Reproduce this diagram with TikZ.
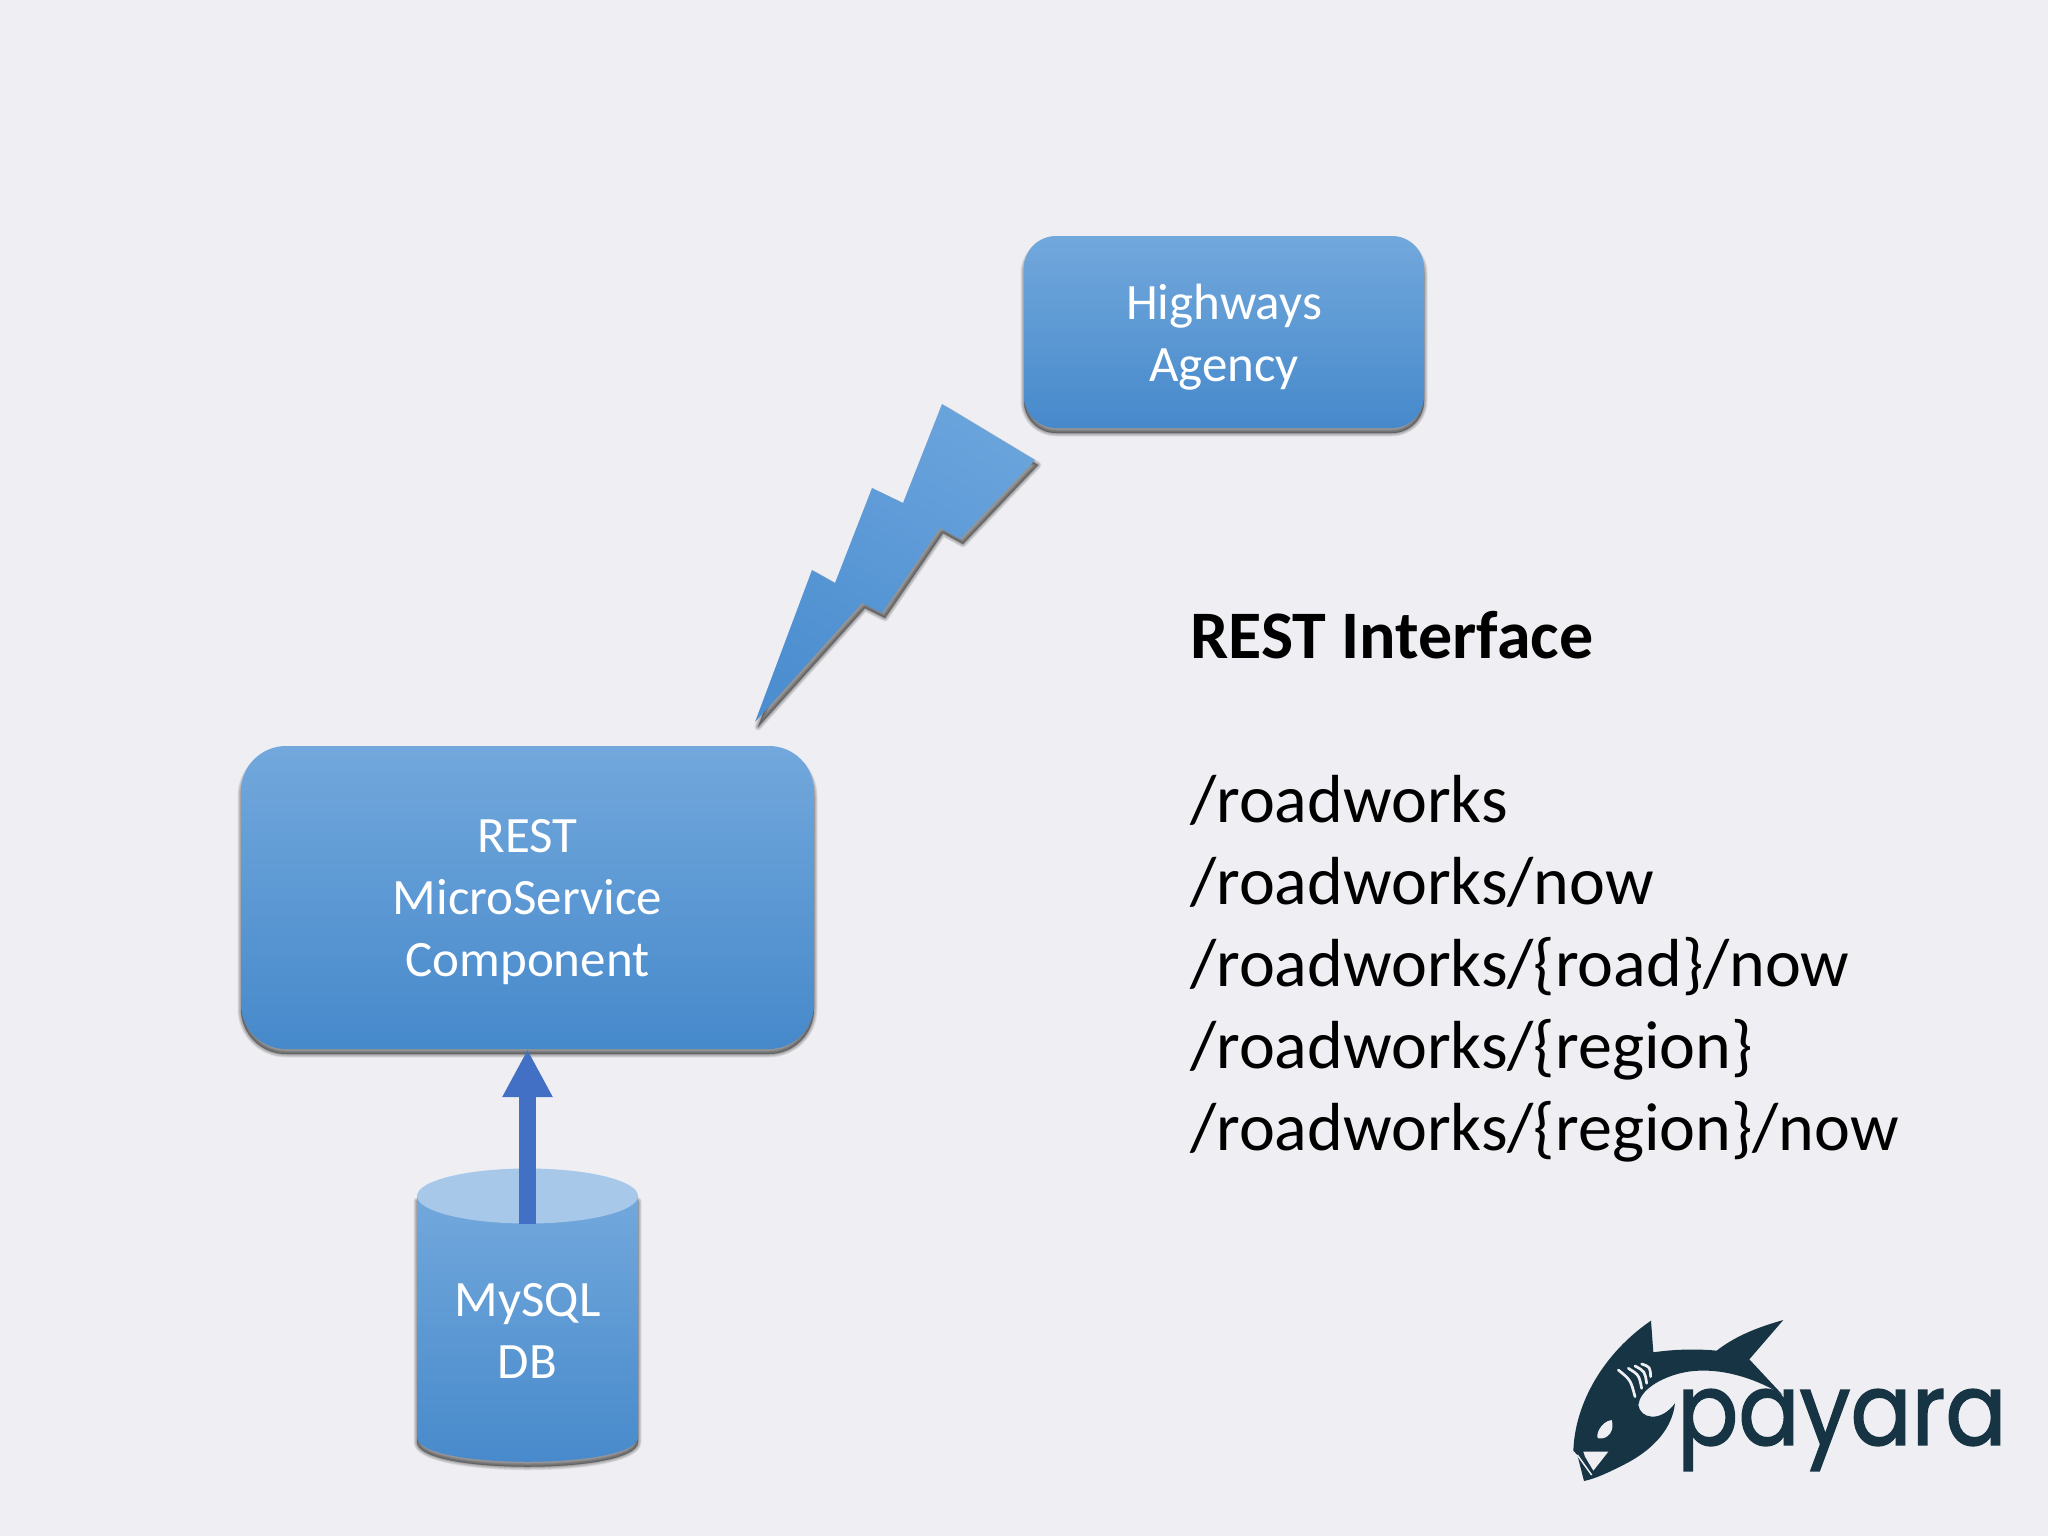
\documentclass[tikz,border=0pt]{standalone}
\usepackage{fontspec}
\setmainfont{Carlito}
\newfontfamily\logofont{Poppins}[FakeBold=1.6]
\usetikzlibrary{arrows.meta,calc}
\definecolor{bg}{HTML}{EFEEF2}
\definecolor{btop}{HTML}{72A8DC}
\definecolor{bmid}{HTML}{5B9BDC}
\definecolor{bbot}{HTML}{4689CB}
\definecolor{lid}{HTML}{A8C8EA}
\definecolor{arrowblue}{HTML}{4270C4}
\definecolor{logo}{HTML}{163444}
\newcommand{\softshadow}[2][2]{%
  \begin{scope}[shift={(#1,5)}]
    \foreach \w in {7,5.5,4,2.5,1,0.2}{
      \draw[black,opacity=.075,line width=\w pt,line join=round,fill=black,fill opacity=.075] #2;
    }
  \end{scope}}
\newcommand{\lowered}[1]{\raisebox{-5pt}[\height][\depth]{#1}}
\tikzset{
  panel/.style={draw=none,top color=btop,middle color=bmid,bottom color=bbot,text=white,
    align=center,inner sep=0pt,font=\fontsize{51}{62}\selectfont},
  flow/.style={draw=arrowblue,line width=17pt,-{Triangle[length=48pt,width=47pt]},shorten >=0pt},
  listing/.style={anchor=north west,inner sep=0pt,align=left,text=black,font=\fontsize{68}{82}\selectfont}
}
\begin{document}
\begin{tikzpicture}[x=1pt,y=-1pt]
\useasboundingbox (0,0) rectangle (2048,1536);
\fill[bg] (0,0) rectangle (2048,1536);

% shadows
\softshadow[0]{[rounded corners=32pt] (1024,236) rectangle (1424,428)}
\softshadow[0]{[rounded corners=45pt] (241,746) rectangle (814,1049)}
\softshadow[3]{(942,404) -- (1035,460) -- (960,539) -- (940,528) -- (882,613) -- (862,603) -- (755,722) -- (812,570) -- (835,583) -- (872,488) -- (903,503) -- cycle}
\softshadow[0]{(417,1196) -- (417,1437) .. controls (417,1470) and (638,1470) .. (638,1437) -- (638,1196) -- cycle}

% bolt
\shade[top color=btop!60!bmid,middle color=bmid,bottom color=bbot!70!bmid,shading angle=-30]
 (942,404) -- (1035,460) -- (960,539) -- (940,528) -- (882,613) -- (862,603) -- (755,722) -- (812,570) -- (835,583) -- (872,488) -- (903,503) -- cycle;

% boxes
\node[panel,rounded corners=32pt,minimum width=400pt,minimum height=192pt] (agency) at (1224,332) {\lowered{Highways}\\\lowered{Agency}};
\node[panel,rounded corners=45pt,minimum width=573pt,minimum height=303pt] (rest) at (527.5,897.5) {\lowered{REST}\\\lowered{MicroService}\\\lowered{Component}};

% database
\shade[top color=btop,middle color=bmid,bottom color=bbot]
 (417,1196) -- (417,1437) .. controls (417,1470) and (638,1470) .. (638,1437) -- (638,1196) -- cycle;
\fill[lid] (527.5,1196) ellipse[x radius=110.5,y radius=27.5];
\node[text=white,align=center,inner sep=0pt,font=\fontsize{51}{62}\selectfont] (db) at (527.5,1331) {MySQL\\DB};
\coordinate (dbtop) at (527.5,1223.5);
\draw[flow] (dbtop) -- (rest.south);

% text
\node[listing] (iface) at (1190,611) {\textbf{REST Interface}\\[0pt]\mbox{}\\/roadworks\\/roadworks/now\\/roadworks/\{road\}/now\\/roadworks/\{region\}\\/roadworks/\{region\}/now};

% logo
\begin{scope}[shift={(1540,1290)},x=.3333pt,y=-.3333pt]
\fill[logo] (333,92) -- (340,187) .. controls (400,178) and (470,176) .. (530,182)
  .. controls (590,135) and (660,110) .. (730,90) -- (628,208) -- (728,315)
  .. controls (640,260) and (520,225) .. (420,250)
  .. controls (360,265) and (300,300) .. (295,345)
  .. controls (300,385) and (360,400) .. (405,340)
  .. controls (395,430) and (320,490) .. (250,525)
  .. controls (210,545) and (170,565) .. (132,573) -- (112,495) -- (100,482)
  .. controls (105,340) and (190,190) .. (333,92) -- cycle;
\fill[bg] (215,390) .. controls (180,395) and (165,440) .. (175,445) .. controls (205,450) and (225,420) .. (215,390) -- cycle;
\fill[bg] (130,485) -- (205,485) -- (160,542) -- (135,500) -- cycle;
\draw[bg,line width=1.5pt] (112,495) -- (155,555);
\foreach \a/\b/\c/\d in {235/240/285/320,265/235/305/295,285/228/320/280,305/222/332/260}{
  \draw[bg,line width=2.7pt,line cap=round] (\a,\b) .. controls ($(\a,\b)!.5!(\c,\d)+(12,-10)$) .. (\c,\d);
}
\end{scope}
\node[anchor=west,inner sep=0pt,text=logo,xscale=.905,font=\logofont\fontsize{100}{100}\selectfont] (payara) at (1677,1430) {payara};
\end{tikzpicture}
\end{document}
